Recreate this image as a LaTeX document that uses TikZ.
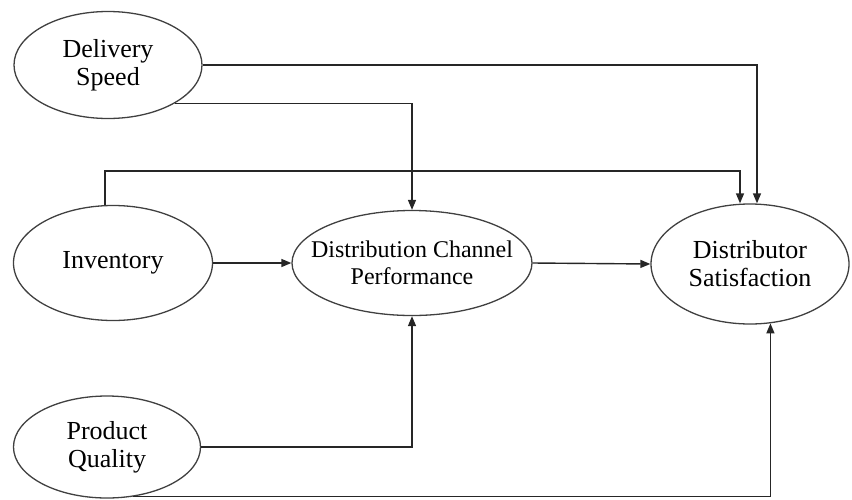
\documentclass[tikz,border=0pt]{standalone}
\usepackage{fontspec}
\setmainfont{Liberation Serif}
\usetikzlibrary{shapes.geometric,arrows.meta}
\begin{document}
\begin{tikzpicture}[x=1pt,y=-1pt,
  oval/.style={ellipse, draw=black!75, line width=1.3pt, inner xsep=-25pt, inner ysep=-6pt, align=center,
    font=\fontsize{26}{28}\selectfont},
  arr/.style={-{Triangle[length=10pt,width=8pt]}, line width=1.4pt, draw=black!85}]
\useasboundingbox (0,0) rectangle (852,499);
\node[oval, minimum width=188pt, minimum height=107pt] (ds) at (108,65) {Delivery\\Speed};
\node[oval, minimum width=199pt, minimum height=115pt] (inv) at (113,263) {Inventory};
\node[oval, minimum width=187pt, minimum height=102pt] (pq) at (107,447) {Product\\Quality};
\node[oval, minimum width=240pt, minimum height=105pt, inner xsep=-40pt, font=\fontsize{24}{27}\selectfont] (dcp) at (412,263) {Distribution Channel\\Performance};
\node[oval, minimum width=198pt, minimum height=120pt] (sat) at (750,264) {Distributor\\Satisfaction};
\draw[arr] (ds.east) -| ([xshift=7pt]sat.north);
\draw[arr] (ds.-30) -| (dcp.north);
\draw[arr] ([xshift=-8pt]inv.north) -- ++(0,-34) -| ([xshift=-10pt]sat.north);
\draw[arr] (inv.east) -- (dcp.west);
\draw[arr] (dcp.east) -- (sat.west);
\draw[arr] (pq.east) -| (dcp.south);
\draw[arr] (pq.-62) -| (sat.-71);
\end{tikzpicture}
\end{document}
